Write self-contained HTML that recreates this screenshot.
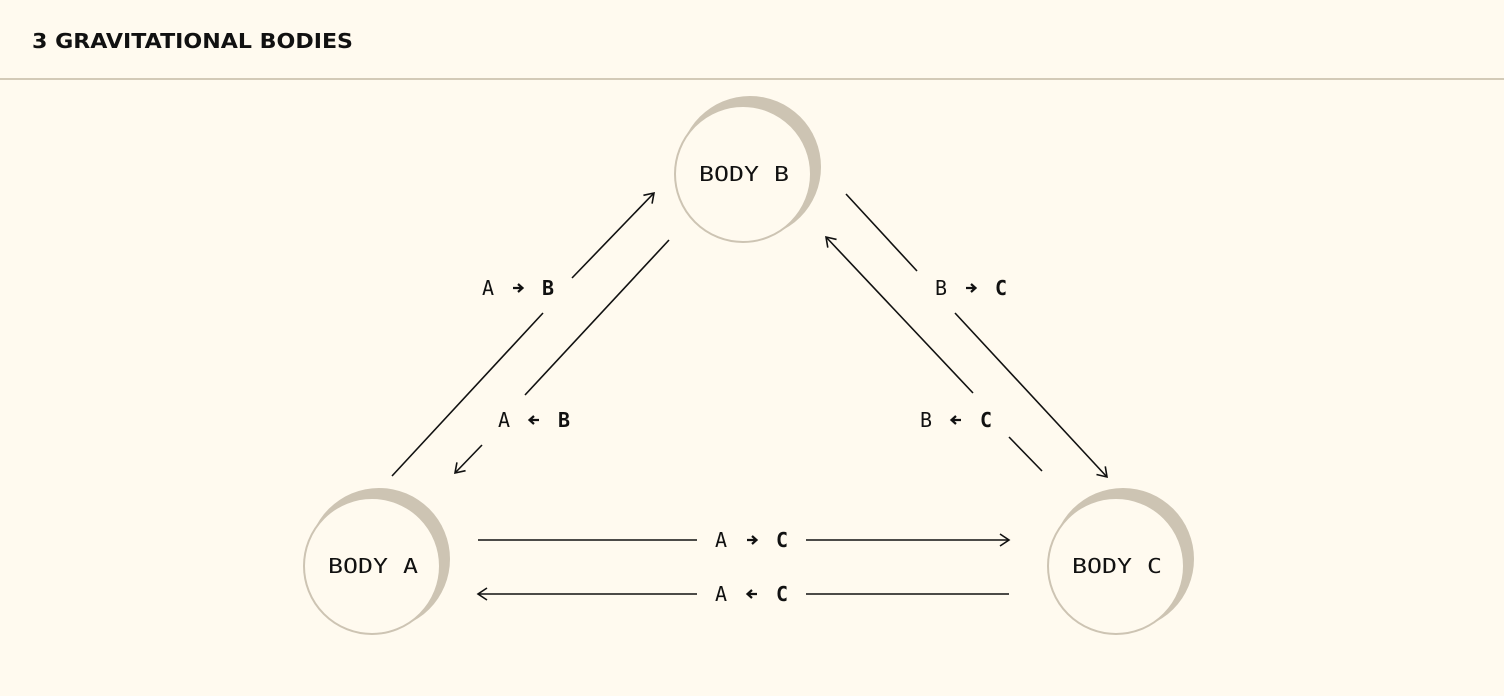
<!DOCTYPE html>
<html><head><meta charset="utf-8"><style>
html,body{margin:0;padding:0;background:#fffaef;}
svg{display:block}
</style></head><body>
<svg width="1504" height="696" viewBox="0 0 1504 696" xmlns="http://www.w3.org/2000/svg">
<defs>
<marker id="ah" markerWidth="14" markerHeight="14" refX="11" refY="7" orient="auto" markerUnits="userSpaceOnUse">
<path d="M2,1 L11,7 L2,13" fill="none" stroke="#111" stroke-width="1.6"/>
</marker>
<g id="ra"><path d="M-5,0 H4 M0,-4 L4.5,0 L0,4" fill="none" stroke="#111" stroke-width="2.2"/></g>
<g id="la"><path d="M5,0 H-4 M0,-4 L-4.5,0 L0,4" fill="none" stroke="#111" stroke-width="2.2"/></g>
</defs>
<rect width="1504" height="696" fill="#fffaef"/>
<text x="32" y="48" style="font-family:'DejaVu Sans','Liberation Sans',sans-serif" font-weight="bold" font-size="20" fill="#111" textLength="321" lengthAdjust="spacingAndGlyphs">3 GRAVITATIONAL BODIES</text>
<rect x="0" y="78" width="1504" height="2" fill="#d3cab7"/>

<g fill="#cdc4b3">
<circle cx="750" cy="167" r="71"/>
<circle cx="379" cy="559" r="71"/>
<circle cx="1123" cy="559" r="71"/>
</g>
<g fill="#fffaef" stroke="#cdc4b3" stroke-width="2">
<circle cx="743" cy="174" r="68"/>
<circle cx="372" cy="566" r="68"/>
<circle cx="1116" cy="566" r="68"/>
</g>
<g style="font-family:'DejaVu Sans Mono','Liberation Mono',monospace" font-size="20" fill="#111" text-anchor="middle">
<text x="744" y="181" textLength="90" lengthAdjust="spacingAndGlyphs">BODY  B</text>
<text x="373" y="573" textLength="90" lengthAdjust="spacingAndGlyphs">BODY  A</text>
<text x="1117" y="573" textLength="90" lengthAdjust="spacingAndGlyphs">BODY  C</text>
</g>

<g stroke="#111" stroke-width="1.6" fill="none">
<line x1="392" y1="476" x2="543" y2="313"/>
<line x1="572" y1="278" x2="654" y2="193" marker-end="url(#ah)"/>
<line x1="669" y1="240" x2="525" y2="395"/>
<line x1="482" y1="445" x2="455" y2="473" marker-end="url(#ah)"/>
<line x1="846" y1="194" x2="917" y2="271"/>
<line x1="955" y1="313" x2="1107" y2="477" marker-end="url(#ah)"/>
<line x1="1042" y1="471" x2="1009" y2="437"/>
<line x1="973" y1="393" x2="826" y2="237" marker-end="url(#ah)"/>
<line x1="478" y1="540" x2="697" y2="540"/>
<line x1="806" y1="540" x2="1009" y2="540" marker-end="url(#ah)"/>
<line x1="1009" y1="594" x2="806" y2="594"/>
<line x1="697" y1="594" x2="478" y2="594" marker-end="url(#ah)"/>
</g>

<g style="font-family:'DejaVu Sans Mono','Liberation Mono',monospace" font-size="20" fill="#111" text-anchor="middle">
<text x="488" y="295">A</text><text x="548" y="295" font-weight="bold">B</text>
<text x="504" y="427">A</text><text x="564" y="427" font-weight="bold">B</text>
<text x="941" y="295">B</text><text x="1001" y="295" font-weight="bold">C</text>
<text x="926" y="427">B</text><text x="986" y="427" font-weight="bold">C</text>
<text x="721" y="547">A</text><text x="782" y="547" font-weight="bold">C</text>
<text x="721" y="601">A</text><text x="782" y="601" font-weight="bold">C</text>
</g>
<use href="#ra" x="518" y="288"/>
<use href="#la" x="534" y="420"/>
<use href="#ra" x="971" y="288"/>
<use href="#la" x="956" y="420"/>
<use href="#ra" x="752" y="540"/>
<use href="#la" x="752" y="594"/>
</svg>
</body></html>
